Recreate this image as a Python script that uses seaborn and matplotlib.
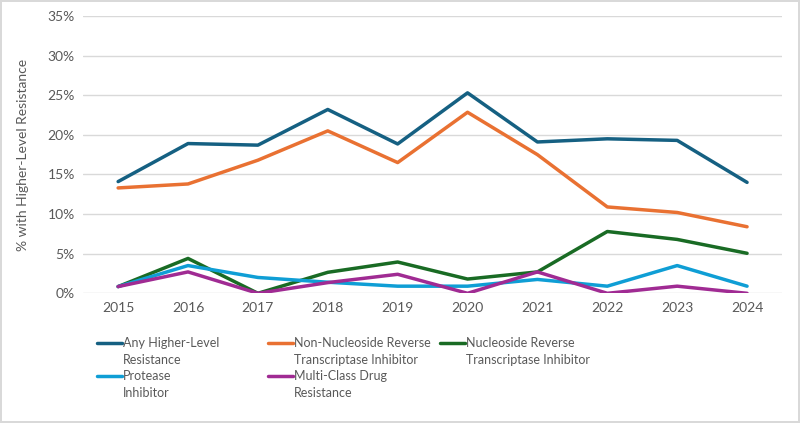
import numpy as np
import pandas as pd
import matplotlib
matplotlib.use("Agg")
import matplotlib.pyplot as plt
import seaborn as sns
from matplotlib.ticker import PercentFormatter

years = [2015, 2016, 2017, 2018, 2019, 2020, 2021, 2022, 2023, 2024]
any_res = [14.1, 18.9, 18.7, 23.2, 18.85, 25.3, 19.1, 19.5, 19.3, 14.0]
nnrti = [13.3, 13.8, 16.8, 20.5, 16.5, 22.85, 17.5, 10.9, 10.2, 8.4]
nrti = [0.85, 4.4, 0.0, 2.65, 3.95, 1.8, 2.7, 7.8, 6.8, 5.05]
pi = [0.85, 3.5, 2.0, 1.4, 0.9, 0.9, 1.75, 0.9, 3.5, 0.9]
multi = [0.85, 2.7, 0.0, 1.35, 2.4, 0.0, 2.7, 0.0, 0.9, 0.0]

series = {
    "Any Higher-Level\nResistance": any_res,
    "Non-Nucleoside Reverse\nTranscriptase Inhibitor": nnrti,
    "Nucleoside Reverse\nTranscriptase Inhibitor": nrti,
    "Protease\nInhibitor": pi,
    "Multi-Class Drug\nResistance": multi,
}
colors = ["#156082", "#E97132", "#196B24", "#0F9ED5", "#A02B93"]

rows = []
for name, vals in series.items():
    for i, v in enumerate(vals):
        rows.append({"pos": i, "year": years[i], "series": name, "value": v})
df = pd.DataFrame(rows)

sns.set_theme(style="white")
plt.rcParams['font.family'] = ['Lato', 'DejaVu Sans']
txt = "#595959"

W, H = 800, 423
fig = plt.figure(figsize=(8, 4.23), dpi=100)
fig.patch.set_edgecolor("#D9D9D9")
fig.patch.set_linewidth(1.5)
ax = fig.add_axes([0.104, 0.3066, 0.8735, 0.6556])

sns.lineplot(data=df, x="pos", y="value", hue="series", palette=colors,
             linewidth=2.5, ax=ax, legend=False, zorder=3)

ax.set_xlim(-0.5, len(years) - 0.5)
ax.set_ylim(0, 35)
ax.set_yticks(np.arange(0, 36, 5))
ax.yaxis.set_major_formatter(PercentFormatter(decimals=0))
ax.set_xticks(range(len(years)))
ax.set_xticklabels([str(y) for y in years])
ax.grid(axis="y", color="#D9D9D9", linewidth=1)
for s in ax.spines.values():
    s.set_visible(False)
ax.tick_params(axis="both", colors=txt, labelsize=10, length=0, pad=6)
ax.set_xlabel("")
ax.set_ylabel("% with Higher-Level Resistance", color=txt, fontsize=10, labelpad=13)

# legend: 3 fixed-width columns, row-major order like the original
labels = list(series.keys())
col_x = [97, 268, 440]
row_y = [342.7, 376.0]
for i, (lab, c) in enumerate(zip(labels, colors)):
    r, k = divmod(i, 3)
    x0, y0 = col_x[k], row_y[r]
    fig.add_artist(plt.Line2D([x0 / W, (x0 + 25) / W], [1 - y0 / H, 1 - y0 / H],
                              color=c, linewidth=2.5, transform=fig.transFigure))
    fig.text((x0 + 26) / W, 1 - (y0 + 8.6) / H, lab, ha="left", va="center",
             fontsize=9, color=txt, linespacing=1.45)

fig.savefig("out.png", dpi=100, edgecolor=fig.get_edgecolor())
